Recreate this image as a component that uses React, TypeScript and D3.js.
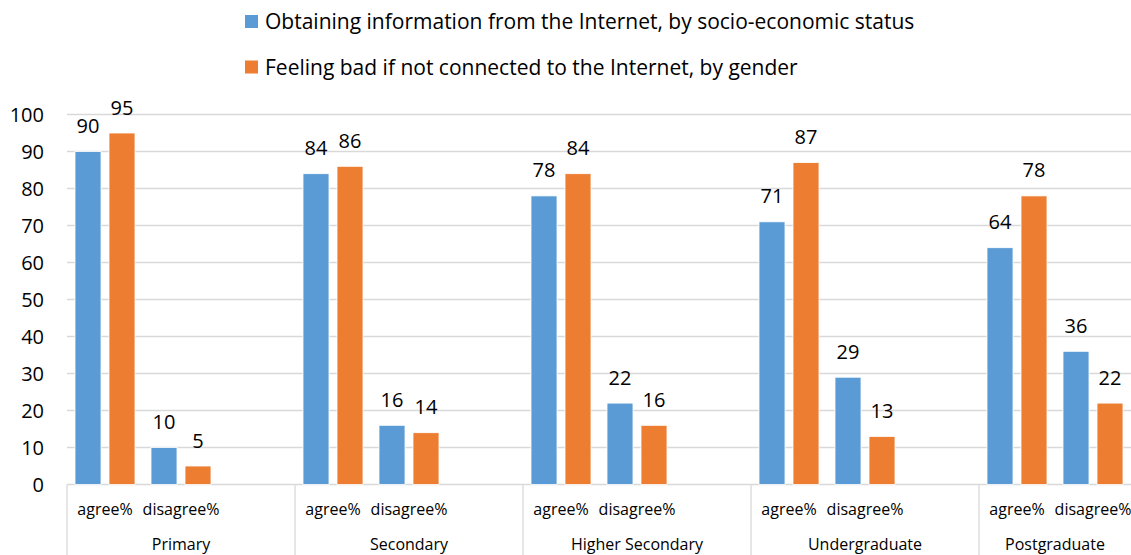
import React from "react";
import * as d3 from "d3";

const groups = ["Primary", "Secondary", "Higher Secondary", "Undergraduate", "Postgraduate"];
const subLabels = ["agree%", "disagree%"];
const seriesNames = [
  "Obtaining information from the Internet, by socio-economic status",
  "Feeling bad if not connected to the Internet, by gender",
];
// values per group: [agree, disagree]
const infoValues = [
  [90, 10],
  [84, 16],
  [78, 22],
  [71, 29],
  [64, 36],
];
const feelingValues = [
  [95, 5],
  [86, 14],
  [84, 16],
  [87, 13],
  [78, 22],
];
const yTicks = [0, 10, 20, 30, 40, 50, 60, 70, 80, 90, 100];
const colors = ["#5B9BD5", "#ED7D31"];

const W = 1131;
const H = 555;
const FONT = "'Open Sans', 'Noto Sans', sans-serif";

export default function App() {
  // build slots: each group has agree, disagree and a blank slot (last group has no blank)
  const slots: { key: string; group: number; sub: number }[] = [];
  groups.forEach((g, gi) => {
    slots.push({ key: `${gi}-0`, group: gi, sub: 0 });
    slots.push({ key: `${gi}-1`, group: gi, sub: 1 });
    if (gi < groups.length - 1) slots.push({ key: `${gi}-blank`, group: gi, sub: -1 });
  });

  const x = d3.scaleBand<string>().domain(slots.map((s) => s.key)).range([67, 1131]).padding(0);
  const inner = d3.scaleBand<string>().domain(["0", "1"]).range([0, x.bandwidth()]).padding(8 / 34);
  const y = d3.scaleLinear().domain([0, 100]).range([484.5, 114.5]);

  const bars: { x: number; y: number; w: number; h: number; color: string; v: number }[] = [];
  slots.forEach((s) => {
    if (s.sub < 0) return;
    const vals = [infoValues[s.group][s.sub], feelingValues[s.group][s.sub]];
    vals.forEach((v, si) => {
      const bx = (x(s.key) as number) + (inner(String(si)) as number);
      bars.push({ x: bx, y: y(v), w: inner.bandwidth(), h: y(0) - y(v), color: colors[si], v });
    });
  });

  // group boundaries
  const groupBounds = groups.map((g, gi) => {
    const gs = slots.filter((s) => s.group === gi);
    const x0 = x(gs[0].key) as number;
    const x1 = (x(gs[gs.length - 1].key) as number) + x.bandwidth();
    return { g, x0, x1 };
  });

  return (
    <svg
      width={W}
      height={H}
      style={{ position: "absolute", left: 0, top: 0, background: "#fff", display: "block" }}
      fontFamily={FONT}
    >
      {/* gridlines */}
      {yTicks.map((t) => (
        <line key={t} x1={67} x2={W} y1={y(t)} y2={y(t)} stroke="#D9D9D9" strokeWidth={1.3} />
      ))}
      {/* y tick labels */}
      {yTicks.map((t) => (
        <text key={"l" + t} x={44} y={y(t)} dy="0.36em" textAnchor="end" fontSize={20} fill="#000">
          {t}
        </text>
      ))}
      {/* category axis dividers */}
      {groupBounds.map((b, i) => (
        <line key={"d" + i} x1={b.x0} x2={b.x0} y1={y(0)} y2={H} stroke="#D9D9D9" strokeWidth={1.3} />
      ))}
      {/* bars */}
      {bars.map((b, i) => (
        <rect key={"b" + i} x={b.x} y={b.y} width={b.w} height={b.h} fill={b.color} stroke="#fff" strokeWidth={0.8} />
      ))}
      {/* data labels */}
      {bars.map((b, i) => (
        <text key={"v" + i} x={b.x + b.w / 2} y={b.y - 18.5} textAnchor="middle" fontSize={20} fill="#000">
          {b.v}
        </text>
      ))}
      {/* sub labels */}
      {slots
        .filter((s) => s.sub >= 0)
        .map((s) => (
          <text
            key={"s" + s.key}
            x={(x(s.key) as number) + x.bandwidth() / 2}
            y={515}
            textAnchor="middle"
            fontSize={16}
            fill="#000"
          >
            {subLabels[s.sub]}
          </text>
        ))}
      {/* group labels */}
      {groupBounds.map((b, i) => (
        <text key={"g" + i} x={(b.x0 + b.x1) / 2} y={550} textAnchor="middle" fontSize={16} fill="#000">
          {b.g}
        </text>
      ))}
      {/* legend */}
      {seriesNames.map((n, i) => (
        <g key={"lg" + i} transform={`translate(245, ${15 + i * 45.5})`}>
          <rect x={0} y={0} width={13} height={13} fill={colors[i]} />
          <text x={20} y={14} fontSize={21} fill="#000">
            {n}
          </text>
        </g>
      ))}
    </svg>
  );
}
